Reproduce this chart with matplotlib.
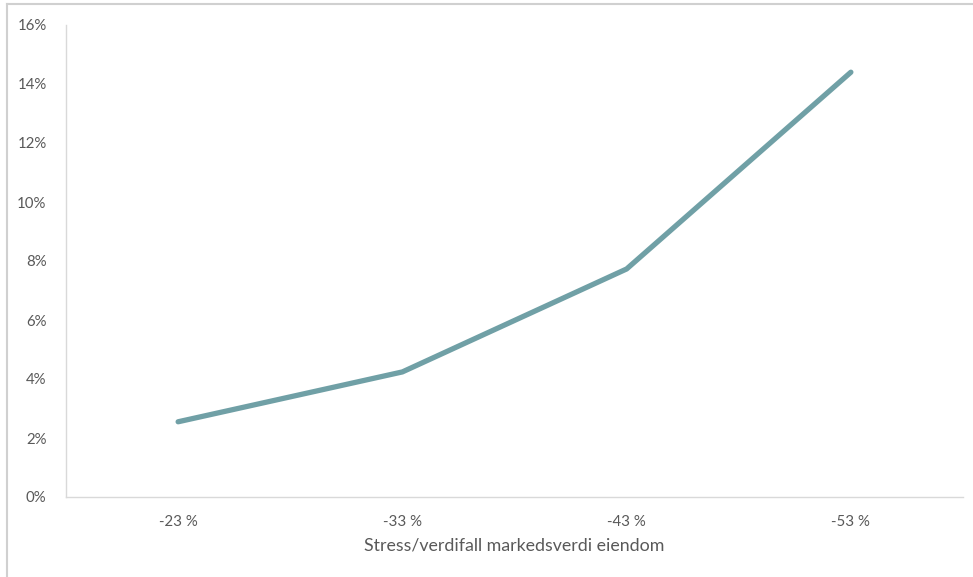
import matplotlib.pyplot as plt
from matplotlib.lines import Line2D
from matplotlib.ticker import FuncFormatter

plt.rcParams['font.family'] = ['Lato', 'DejaVu Sans']

# Stressscenarier: verdifall i markedsverdi og tilhørende andel
scenarier = ["-23 %", "-33 %", "-43 %", "-53 %"]
andel = [0.0255, 0.0424, 0.0773, 0.1440]

tekstfarge = "#595959"
linjefarge = "#70A0A6"
aksefarge = "#D9D9D9"

fig = plt.figure(figsize=(9.73, 5.77), dpi=100)
ax = fig.add_axes([66 / 973, 80 / 577, 897 / 973, 472 / 577])

x = range(len(scenarier))
ax.plot(x, andel, color=linjefarge, linewidth=3.8, solid_capstyle="round")

ax.set_xlim(-0.5, len(scenarier) - 0.5)
ax.set_ylim(0, 0.16)
ax.set_yticks([i / 100 for i in range(0, 17, 2)])
ax.yaxis.set_major_formatter(FuncFormatter(lambda v, _: f"{v * 100:.0f}%"))
ax.set_xticks(list(x))
ax.set_xticklabels(scenarier)

ax.tick_params(axis="both", length=0, labelsize=10.8, colors=tekstfarge)
ax.tick_params(axis="x", pad=13)
ax.tick_params(axis="y", pad=14)
ax.set_xlabel("Stress/verdifall markedsverdi eiendom", fontsize=12.8,
              color=tekstfarge, labelpad=6)

for side in ["top", "right"]:
    ax.spines[side].set_visible(False)
for side in ["left", "bottom"]:
    ax.spines[side].set_color(aksefarge)
    ax.spines[side].set_linewidth(1.0)

# ramme rundt diagramområdet (øvre og venstre kant)
rammefarge = "#D0D0D0"
fig.add_artist(Line2D([7 / 973, 1.0], [573 / 577, 573 / 577],
                      transform=fig.transFigure, color=rammefarge, linewidth=1.5))
fig.add_artist(Line2D([7 / 973, 7 / 973], [0.0, 573 / 577],
                      transform=fig.transFigure, color=rammefarge, linewidth=1.5))

fig.savefig("out.png", dpi=100)
